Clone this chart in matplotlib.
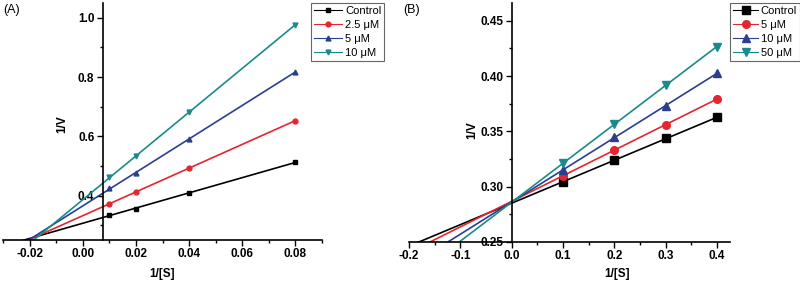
import numpy as np
import matplotlib
matplotlib.use("Agg")
import matplotlib.pyplot as plt
from matplotlib.ticker import MultipleLocator

plt.rcParams['font.family'] = ['Liberation Sans', 'DejaVu Sans']

# panel A data
xa = [0.01, 0.02, 0.04, 0.08]
labels_a = ["Control", "2.5 μM", "5 μM", "10 μM"]
ya_control = [0.335, 0.356, 0.407, 0.513]
ya_25 = [0.373, 0.411, 0.493, 0.653]
ya_5 = [0.424, 0.476, 0.590, 0.818]
ya_10 = [0.461, 0.532, 0.682, 0.977]

# panel B data
xb = [0.1, 0.2, 0.3, 0.4]
labels_b = ["Control", "5 μM", "10 μM", "50 μM"]
yb_control = [0.3045, 0.3238, 0.3437, 0.3626]
yb_5 = [0.310, 0.333, 0.356, 0.3794]
yb_10 = [0.315, 0.345, 0.3728, 0.4027]
yb_50 = [0.321, 0.3566, 0.392, 0.4266]

colors = ["black", "#e3262f", "#2b3f8f", "#1a8a8a"]
markers = ["s", "o", "^", "v"]

W, H = 800, 282
fig = plt.figure(figsize=(8, 2.82), dpi=100)


def px_axes(x0, x1, y0, y1):
    # pixel box -> figure coords
    return fig.add_axes([x0 / W, 1 - y1 / H, (x1 - x0) / W, (y1 - y0) / H])


def draw_panel(ax, x, ys, labels, xlim, ylim, msize):
    xx = np.linspace(xlim[0], max(x), 50)
    handles = []
    for y, lab, c, m in zip(ys, labels, colors, markers):
        k, b = np.polyfit(x, y, 1)
        ax.plot(xx, k * xx + b, color=c, lw=1.2)
        ax.plot(x, y, ls='none', marker=m, color=c, ms=msize)
        h, = ax.plot([], [], color=c, marker=m, ms=msize, lw=0.8, label=lab)
        handles.append(h)
    ax.set_xlim(*xlim)
    ax.set_ylim(*ylim)
    ax.spines['top'].set_visible(False)
    ax.spines['right'].set_visible(False)
    for s in ['left', 'bottom']:
        ax.spines[s].set_linewidth(1.2)
    ax.tick_params(which='major', length=4, width=1, labelsize=8.5, pad=2)
    ax.tick_params(which='minor', length=2.5, width=1)
    return handles


# (A)
axa = px_axes(3, 322, 3, 240)
ha = draw_panel(axa, xa, [ya_control, ya_25, ya_5, ya_10], labels_a,
                (-0.03, 0.09), (0.25, 1.05), 3.5)
axa.spines['left'].set_position(('data', 0.0075))
axa.xaxis.set_minor_locator(MultipleLocator(0.01))
axa.yaxis.set_minor_locator(MultipleLocator(0.1))
axa.set_xticks([-0.02, 0.0, 0.02, 0.04, 0.06, 0.08])
axa.set_xticklabels(["-0.02", "0.00", "0.02", "0.04", "0.06", "0.08"], fontweight='bold')
axa.set_yticks([0.4, 0.6, 0.8, 1.0])
axa.set_yticklabels(["0.4", "0.6", "0.8", "1.0"], fontweight='bold')
axa.set_xlabel("1/[S]", fontsize=8.5, fontweight='bold')
axa.set_ylabel("1/V", fontsize=8.5, fontweight='bold')
axa.xaxis.set_label_coords(0.5, -0.118)
axa.yaxis.set_label_coords(0.204, 0.49)

# (B)
axb = px_axes(409, 730, 3, 242)
hb = draw_panel(axb, xb, [yb_control, yb_5, yb_10, yb_50], labels_b,
                (-0.2, 0.425), (0.25, 0.466), 5.5)
axb.spines['left'].set_position(('data', 0.0))
axb.set_xticks([-0.2, -0.1, 0.0, 0.1, 0.2, 0.3, 0.4])
axb.set_xticklabels(["-0.2", "-0.1", "0.0", "0.1", "0.2", "0.3", "0.4"], fontweight='bold')
axb.xaxis.set_minor_locator(MultipleLocator(0.05))
axb.set_yticks([0.25, 0.30, 0.35, 0.40, 0.45])
axb.set_yticklabels(["0.25", "0.30", "0.35", "0.40", "0.45"], fontweight='bold')
axb.yaxis.set_minor_locator(MultipleLocator(0.025))
axb.set_xlabel("1/[S]", fontsize=8.5, fontweight='bold')
axb.set_ylabel("1/V", fontsize=8.5, fontweight='bold')
axb.xaxis.set_label_coords(0.648, -0.11)
axb.yaxis.set_label_coords(0.215, 0.47)

for handles, x0, hl in [(ha, 311, 2.5), (hb, 730, 2.2)]:
    leg = fig.legend(handles=handles, loc='upper left',
                     bbox_to_anchor=(x0 / W, 1 - 3 / H), fontsize=8,
                     frameon=True, fancybox=False, handlelength=hl,
                     handletextpad=0.25, borderpad=0.3, labelspacing=0.35,
                     borderaxespad=0, framealpha=1)
    leg.get_frame().set_edgecolor('#666666')
    leg.get_frame().set_linewidth(0.8)

fig.text(3 / W, 1 - 10 / H, "(A)", fontsize=9, va='center', ha='left')
fig.text(403 / W, 1 - 10 / H, "(B)", fontsize=9, va='center', ha='left')

fig.savefig("out.png", dpi=100)
